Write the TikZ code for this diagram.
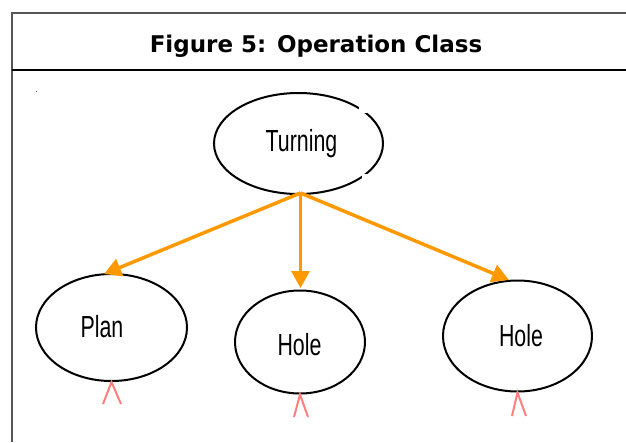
\documentclass[tikz,border=0pt]{standalone}
\usepackage{fontspec}
\setmainfont{Liberation Sans}
\newfontfamily\titlefont{DejaVu Sans}
\usetikzlibrary{shapes.geometric,arrows.meta}
\definecolor{arroworange}{HTML}{FF9900}
\definecolor{markred}{HTML}{FF7F7F}
\definecolor{framegray}{HTML}{555555}
\tikzset{
  classell/.style={draw=black,line width=2pt,ellipse,inner sep=0pt},
  lbl/.style={anchor=base,inner sep=0pt,font=\fontsize{30.5}{30.5}\selectfont},
  arr/.style={draw=arroworange,line width=3.5pt,-{Triangle[length=17pt,width=18pt]}},
  redmark/.style={draw=markred,line width=2pt},
}
\newcommand{\cond}[1]{\scalebox{0.7}[1]{#1}}
\begin{document}
\begin{tikzpicture}[x=1pt,y=-1pt]
\useasboundingbox[fill=white] (0,0) rectangle (626,442);
% frame
\draw[framegray,line width=1.4pt] (12,442) -- (12,13) -- (627,13);
\draw[black,line width=1.2pt] (12,70) -- (627,70);
\node[anchor=base,inner sep=0pt,font=\titlefont\bfseries\fontsize{23}{23}\selectfont] (title) at (316,52.5) {Figure 5: Operation Class};
\fill[black!70] (35.5,90.5) rectangle (37,92);
% ellipses
\node[classell,minimum width=169pt,minimum height=101pt] (turn) at (298.5,143.5) {};
\node[classell,minimum width=151pt,minimum height=107pt] (plan) at (111.5,327.5) {};
\node[classell,minimum width=130pt,minimum height=103pt] (hole1) at (300,342) {};
\node[classell,minimum width=149pt,minimum height=111pt] (hole2) at (517.5,336) {};
% small gaps in Turning ellipse
\fill[white] (359,106) rectangle (367,113);
\fill[white] (362,174) rectangle (368,179);
% labels
\node[lbl] (tturn) at (301.5,151) {\cond{Turning}};
\node[lbl] (tplan) at (102,337) {\cond{Plan}};
\node[lbl] (thole1) at (299.5,355) {\cond{Hole}};
\node[lbl] (thole2) at (521,346) {\cond{Hole}};
% arrows
\coordinate (src) at (300.5,193);
\coordinate (tipp) at (104,274);
\coordinate (tiph) at (300.5,288);
\coordinate (tipr) at (509,280);
\draw[arr] (src) -- (tipp);
\draw[arr] (src) -- (tiph);
\draw[arr] (src) -- (tipr);
% red marks
\draw[redmark] (103,404) -- (plan.south) -- (121,404);
\draw[redmark] (294,417) -- (hole1.south) -- (308,417);
\draw[redmark] (512,416) -- (hole2.south) -- (526,416);
\end{tikzpicture}
\end{document}
